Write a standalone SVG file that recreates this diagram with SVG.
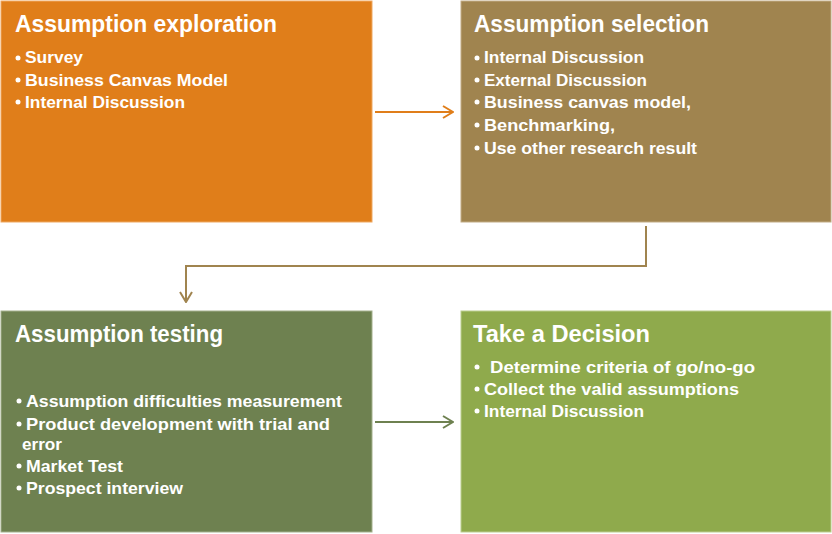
<svg xmlns="http://www.w3.org/2000/svg" width="832" height="534" viewBox="0 0 832 534">
<style>
.t{font-family:"Liberation Sans",Arial,sans-serif;font-weight:bold;fill:#fff;font-size:23px}
.b{font-family:"Liberation Sans",Arial,sans-serif;font-weight:bold;fill:#fff;font-size:17px}
.d{fill:#fff}
</style>
<defs>
<marker id="ao" markerWidth="12" markerHeight="14" refX="11" refY="7" orient="auto" markerUnits="userSpaceOnUse"><path d="M1,1 L11,7 L1,13" fill="none" stroke="#E07E1A" stroke-width="2"/></marker>
<marker id="ag" markerWidth="12" markerHeight="14" refX="11" refY="7" orient="auto" markerUnits="userSpaceOnUse"><path d="M1,1 L11,7 L1,13" fill="none" stroke="#6E8150" stroke-width="2"/></marker>
<marker id="ab" markerWidth="12" markerHeight="14" refX="11" refY="7" orient="auto" markerUnits="userSpaceOnUse"><path d="M1,1 L11,7 L1,13" fill="none" stroke="#A0844F" stroke-width="2"/></marker>
</defs>
<rect width="832" height="534" fill="#fff"/>
<g id="connectors" fill="none" stroke-width="2">
<path d="M375,112 H453" stroke="#E07E1A" marker-end="url(#ao)"/>
<path d="M646,226 V266 H186 V302" stroke="#A0844F" marker-end="url(#ab)"/>
<path d="M375,422 H453" stroke="#6E8150" marker-end="url(#ag)"/>
</g>
<g id="exploration">
<rect x="1" y="1" width="371" height="221" fill="#E07E1A" stroke="#EFA860" stroke-width="1"/>
<text class="t" x="15" y="32" textLength="262" lengthAdjust="spacingAndGlyphs">Assumption exploration</text>
<circle class="d" cx="18" cy="58" r="2.5"/><text class="b" x="25" y="63" textLength="58" lengthAdjust="spacingAndGlyphs">Survey</text>
<circle class="d" cx="18" cy="80" r="2.5"/><text class="b" x="25" y="86" textLength="203" lengthAdjust="spacingAndGlyphs">Business Canvas Model</text>
<circle class="d" cx="18" cy="102" r="2.5"/><text class="b" x="25" y="108" textLength="160" lengthAdjust="spacingAndGlyphs">Internal Discussion</text>
</g>
<g id="selection">
<rect x="461" y="1" width="370" height="221" fill="#A0844F" stroke="#C2AC85" stroke-width="1"/>
<text class="t" x="474" y="32" textLength="235" lengthAdjust="spacingAndGlyphs">Assumption selection</text>
<circle class="d" cx="477" cy="58" r="2.5"/><text class="b" x="484" y="63" textLength="160" lengthAdjust="spacingAndGlyphs">Internal Discussion</text>
<circle class="d" cx="477" cy="80" r="2.5"/><text class="b" x="484" y="86" textLength="163" lengthAdjust="spacingAndGlyphs">External Discussion</text>
<circle class="d" cx="477" cy="102" r="2.5"/><text class="b" x="484" y="108" textLength="207" lengthAdjust="spacingAndGlyphs">Business canvas model,</text>
<circle class="d" cx="477" cy="125" r="2.5"/><text class="b" x="484" y="131" textLength="131" lengthAdjust="spacingAndGlyphs">Benchmarking,</text>
<circle class="d" cx="477" cy="148" r="2.5"/><text class="b" x="484" y="154" textLength="213" lengthAdjust="spacingAndGlyphs">Use other research result</text>
</g>
<g id="testing">
<rect x="1" y="311" width="371" height="221" fill="#6E8150" stroke="#A3B08C" stroke-width="1"/>
<text class="t" x="15" y="342" textLength="208" lengthAdjust="spacingAndGlyphs">Assumption testing</text>
<circle class="d" cx="19" cy="401" r="2.5"/><text class="b" x="26" y="407" textLength="316" lengthAdjust="spacingAndGlyphs">Assumption difficulties measurement</text>
<circle class="d" cx="19" cy="424" r="2.5"/><text class="b" x="26" y="430" textLength="304" lengthAdjust="spacingAndGlyphs">Product development with trial and</text>
<text class="b" x="22" y="450" textLength="40" lengthAdjust="spacingAndGlyphs">error</text>
<circle class="d" cx="19" cy="466" r="2.5"/><text class="b" x="26" y="472" textLength="97" lengthAdjust="spacingAndGlyphs">Market Test</text>
<circle class="d" cx="19" cy="488" r="2.5"/><text class="b" x="26" y="494" textLength="157" lengthAdjust="spacingAndGlyphs">Prospect interview</text>
</g>
<g id="decision">
<rect x="461" y="311" width="370" height="221" fill="#8FAA4C" stroke="#BCCD8E" stroke-width="1"/>
<text class="t" x="473" y="342" textLength="177" lengthAdjust="spacingAndGlyphs">Take a Decision</text>
<circle class="d" cx="477" cy="367" r="2.5"/><text class="b" x="490" y="373" textLength="265" lengthAdjust="spacingAndGlyphs">Determine criteria of go/no-go</text>
<circle class="d" cx="477" cy="389" r="2.5"/><text class="b" x="484" y="395" textLength="255" lengthAdjust="spacingAndGlyphs">Collect the valid assumptions</text>
<circle class="d" cx="477" cy="411" r="2.5"/><text class="b" x="484" y="417" textLength="160" lengthAdjust="spacingAndGlyphs">Internal Discussion</text>
</g>
</svg>
